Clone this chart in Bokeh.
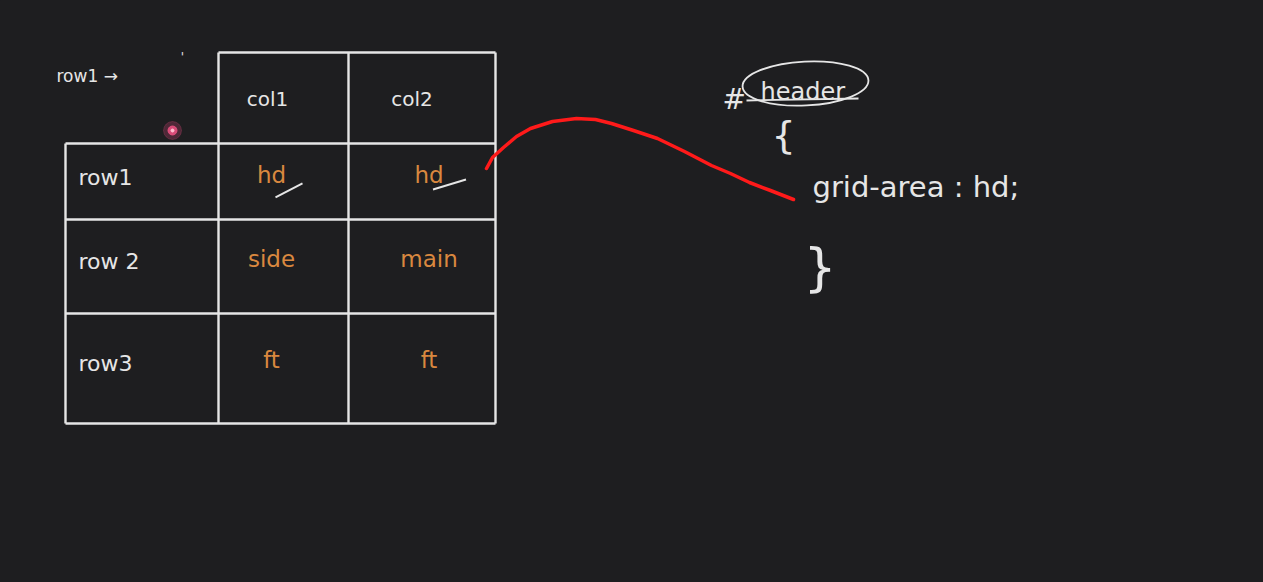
from bokeh.plotting import figure
from bokeh.models import Range1d
from bokeh.core.properties import value
from bokeh.embed import file_html
from bokeh.resources import INLINE

# table layout (page pixels)
col_edges = [65, 218, 348, 495]
row_edges = [52, 143, 219, 313, 423]
header_labels = ["col1", "col2"]
row_labels = ["row1", "row 2", "row3"]
areas = [["hd", "hd"], ["side", "main"], ["ft", "ft"]]

# red freehand link from the table to the css rule
link_x = [486, 492, 503, 516, 530, 552, 576, 595, 611, 633, 657, 684, 711, 730, 749, 770, 793]
link_y = [168, 157, 147, 136, 128, 121, 118, 119, 123, 130, 138, 151, 165, 173, 182, 190, 199]

css_selector = "header"
css_rule = "grid-area : hd;"

bg = "#1e1e20"
ink = "#e6e6e6"
orange = "#d9883f"
hand = value("DejaVu Sans")

p = figure(width=1247, height=566, output_backend="svg", toolbar_location=None,
           x_range=Range1d(0, 1247), y_range=Range1d(566, 0), min_border=0)
p.axis.visible = False
p.grid.visible = False
p.outline_line_color = None
p.background_fill_color = bg
p.border_fill_color = bg

# grid lines of the table
left, c1, c2, right = col_edges
top, r1, r2, r3, bottom = row_edges
hx0 = [c1] + [left] * 4
hx1 = [right] * 5
p.segment(x0=hx0, y0=row_edges, x1=hx1, y1=row_edges, line_color=ink, line_width=2.4)
vy0 = [r1, top, top, top]
vy1 = [bottom] * 4
p.segment(x0=col_edges, y0=vy0, x1=col_edges, y1=vy1, line_color=ink, line_width=2.4)

# column headers
hdr_shift = [-16, -10]
hdr_x = [(col_edges[i + 1] + col_edges[i + 2]) / 2 + hdr_shift[i] for i in range(2)]
hdr_y = [(top + r1) / 2 + 1] * 2
p.text(x=hdr_x, y=hdr_y, text=header_labels, text_color=ink, text_font=hand,
       text_font_size="20px", text_align="center", text_baseline="middle")

# row labels
lab_x = [left + 13] * 3
lab_y = [row_edges[i + 1] + (row_edges[i + 2] - row_edges[i + 1]) * 0.45 for i in range(3)]
p.text(x=lab_x, y=lab_y, text=row_labels, text_color=ink, text_font=hand,
       text_font_size="22px", text_align="left", text_baseline="middle")

# area names inside cells
ax, ay, at = [], [], []
for i, row in enumerate(areas):
    for j, name in enumerate(row):
        ax.append((col_edges[j + 1] + col_edges[j + 2]) / 2 + (-12 if j == 0 else 7))
        ay.append(row_edges[i + 1] + (row_edges[i + 2] - row_edges[i + 1]) * 0.42)
        at.append(name)
p.text(x=ax, y=ay, text=at, text_color=orange, text_font=hand,
       text_font_size="23px", text_align="center", text_baseline="middle")

# little white strokes under the two "hd"
p.segment(x0=[ax[0] + 4, ax[1] + 4], y0=[ay[0] + 22, ay[1] + 14],
          x1=[ax[0] + 31, ax[1] + 37], y1=[ay[0] + 8, ay[1] + 4],
          line_color=ink, line_width=2)

# row1 -> note and stray marks
p.text(x=[56], y=[75], text=["row1 →"], text_color=ink, text_font=hand,
       text_font_size="17px", text_align="left", text_baseline="middle")
p.text(x=[182], y=[56], text=["'"], text_color=ink, text_font=hand,
       text_font_size="12px", text_align="center", text_baseline="middle")
p.scatter(x=[172], y=[130], size=18, color="#e0487a", alpha=0.25)
p.scatter(x=[172], y=[130], size=9, color="#e8507f", alpha=0.9)
p.scatter(x=[172], y=[130], size=3, color="#ffc0d0")

# red link
p.line(x=link_x, y=link_y, line_color="#ff1a1a", line_width=3.5, line_cap="round", line_join="round")

# css rule on the right
p.text(x=[722], y=[99], text=["#"], text_color=ink, text_font=hand,
       text_font_size="28px", text_align="left", text_baseline="middle")
p.text(x=[760], y=[91], text=[css_selector], text_color=ink, text_font=hand,
       text_font_size="24px", text_align="left", text_baseline="middle")
p.segment(x0=[746], y0=[100], x1=[858], y1=[98], line_color=ink, line_width=1.8)
p.ellipse(x=[805], y=[83], width=[126], height=[44], angle=0.05,
          fill_color=None, line_color=ink, line_width=1.8)
p.text(x=[771], y=[134], text=["{"], text_color=ink, text_font=hand,
       text_font_size="38px", text_align="left", text_baseline="middle")
p.text(x=[812], y=[186], text=[css_rule], text_color=ink, text_font=hand,
       text_font_size="29px", text_align="left", text_baseline="middle")
p.text(x=[803], y=[266], text=["}"], text_color=ink, text_font=hand,
       text_font_size="52px", text_align="left", text_baseline="middle")

html = file_html(p, INLINE)
html = html.replace("<head>", "<head><style>html, body {background: %s;}</style>" % bg, 1)
open("out.html", "w").write(html)
